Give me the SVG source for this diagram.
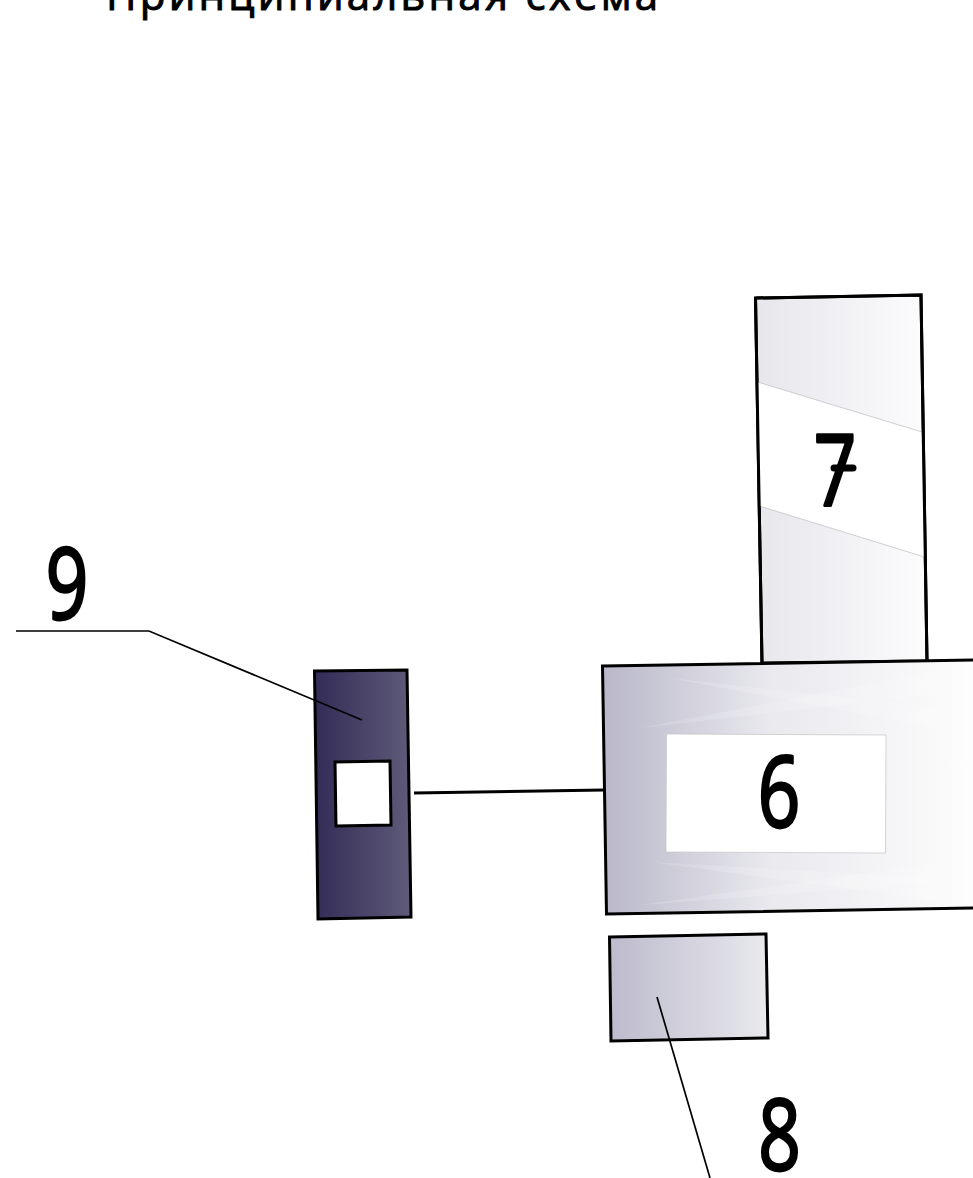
<svg xmlns="http://www.w3.org/2000/svg" width="973" height="1178" viewBox="0 0 973 1178">
<style>
.edge{stroke:#000;stroke-width:3;stroke-linejoin:miter;}
.digit{font-family:"Open Sans","Liberation Sans",sans-serif;font-size:98px;fill:#000;stroke:#000;stroke-width:2.5;stroke-linejoin:round;text-anchor:middle;vector-effect:non-scaling-stroke;}
.title{font-family:"Open Sans","Liberation Sans",sans-serif;font-size:42px;fill:#000;stroke:#000;stroke-width:1;stroke-linejoin:round;}
.leader{fill:none;stroke:#000;stroke-width:1.7;}
.band{fill:#fff;stroke:#bbb;stroke-width:.7;}
.sheen{fill:#fff;opacity:.16;}
</style>
<defs>
<linearGradient id="g7" gradientUnits="userSpaceOnUse" x1="756" y1="0" x2="925" y2="0"><stop offset="0" stop-color="#e6e6ec"/><stop offset="1" stop-color="#fcfcfd"/></linearGradient>
<linearGradient id="g6" gradientUnits="userSpaceOnUse" x1="603" y1="0" x2="973" y2="0"><stop offset="0" stop-color="#b9b7c9"/><stop offset=".45" stop-color="#e9e9ee"/><stop offset="1" stop-color="#fdfdfd"/></linearGradient>
<linearGradient id="g8" gradientUnits="userSpaceOnUse" x1="610" y1="0" x2="768" y2="0"><stop offset="0" stop-color="#bdbbcc"/><stop offset="1" stop-color="#e9e9ee"/></linearGradient>
<linearGradient id="g9" gradientUnits="userSpaceOnUse" x1="315" y1="0" x2="411" y2="0"><stop offset="0" stop-color="#332c57"/><stop offset="1" stop-color="#5f5b79"/></linearGradient>
</defs>
<text class="title" x="106" y="10" textLength="552" lengthAdjust="spacing">Принципиальная схема</text>
<g id="node-7">
<polygon class="edge" fill="url(#g7)" points="755.500,298 921,295 927,661 762,663"/>
<polygon class="band" points="757.500,382 922,432 924.500,557 759.500,506"/>
<path d="M755.500,298L921,295L927,661M755.500,298L762,663" fill="none" class="edge"/>
<text class="digit" transform="translate(835,505) scale(.76,1)">7</text>
<line x1="834" y1="468" x2="853" y2="468" stroke="#000" stroke-width="7" stroke-linecap="round"/>
</g>
<g id="node-6">
<polygon class="edge" fill="url(#g6)" points="602.500,666 975,660 975,908 606.500,914"/>
<polygon class="sheen" points="670,678 973,712 973,735"/>
<polygon class="sheen" points="640,728 957,667 973,690"/>
<polygon class="sheen" points="650,862 973,905 973,880"/>
<polygon class="sheen" points="640,905 973,858 973,880"/>
<polygon fill="#fff" stroke="#c4c4c4" stroke-width=".7" points="666.500,734 886,735 885.500,853 666,852"/>
<text class="digit" transform="translate(779,827) scale(.76,1)">6</text>
</g>
<g id="node-8">
<polygon class="edge" fill="url(#g8)" points="609.500,937 766,934 768,1038 611,1041"/>
<text class="digit" transform="translate(779.500,1170) scale(.76,1)">8</text>
</g>
<g id="node-9">
<polygon class="edge" fill="url(#g9)" points="314.500,671 407,670 411,917 318,919"/>
<polygon class="edge" fill="#fff" points="335,762 390,761 391,825 336,826"/>
<text class="digit" transform="translate(67,619) scale(.76,1)">9</text>
</g>
<g id="connectors">
<line x1="414" y1="793" x2="604" y2="790" stroke="#000" stroke-width="3"/>
<polyline class="leader" points="16,631 149,631 362,720"/>
<line class="leader" x1="657" y1="997" x2="710" y2="1178"/>
</g>
</svg>
